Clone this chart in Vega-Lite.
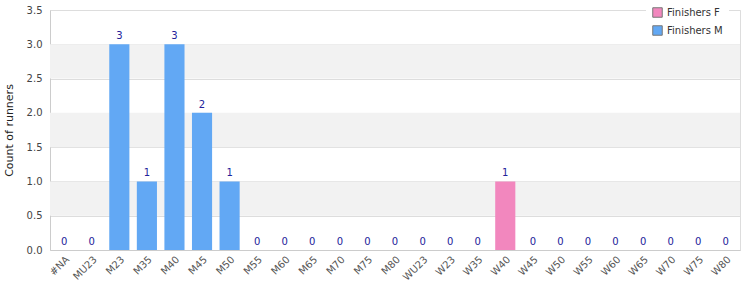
{
  "$schema": "https://vega.github.io/schema/vega-lite/v6.json",
  "autosize": "none",
  "width": 690,
  "height": 240,
  "padding": {"left": 50, "top": 10, "right": 10, "bottom": 50},
  "config": {
    "font": "DejaVu Sans",
    "view": {"stroke": "#dddddd", "strokeWidth": 1},
    "axis": {"labelFont": "DejaVu Sans", "titleFont": "DejaVu Sans"}
  },
  "datasets": {
    "bands": [
      {"y0": 0.5, "y1": 1.0},
      {"y0": 1.5, "y1": 2.0},
      {"y0": 2.5, "y1": 3.0}
    ],
    "runners": [
      {"category": "#NA", "series": "Finishers M", "count": 0},
      {"category": "MU23", "series": "Finishers M", "count": 0},
      {"category": "M23", "series": "Finishers M", "count": 3},
      {"category": "M35", "series": "Finishers M", "count": 1},
      {"category": "M40", "series": "Finishers M", "count": 3},
      {"category": "M45", "series": "Finishers M", "count": 2},
      {"category": "M50", "series": "Finishers M", "count": 1},
      {"category": "M55", "series": "Finishers M", "count": 0},
      {"category": "M60", "series": "Finishers M", "count": 0},
      {"category": "M65", "series": "Finishers M", "count": 0},
      {"category": "M70", "series": "Finishers M", "count": 0},
      {"category": "M75", "series": "Finishers M", "count": 0},
      {"category": "M80", "series": "Finishers M", "count": 0},
      {"category": "WU23", "series": "Finishers F", "count": 0},
      {"category": "W23", "series": "Finishers F", "count": 0},
      {"category": "W35", "series": "Finishers F", "count": 0},
      {"category": "W40", "series": "Finishers F", "count": 1},
      {"category": "W45", "series": "Finishers F", "count": 0},
      {"category": "W50", "series": "Finishers F", "count": 0},
      {"category": "W55", "series": "Finishers F", "count": 0},
      {"category": "W60", "series": "Finishers F", "count": 0},
      {"category": "W65", "series": "Finishers F", "count": 0},
      {"category": "W70", "series": "Finishers F", "count": 0},
      {"category": "W75", "series": "Finishers F", "count": 0},
      {"category": "W80", "series": "Finishers F", "count": 0}
    ]
  },
  "layer": [
    {
      "data": {"name": "bands"},
      "mark": {"type": "rect", "color": "#f2f2f2"},
      "encoding": {
        "y": {"field": "y0", "type": "quantitative", "scale": {"domain": [0, 3.5]}},
        "y2": {"field": "y1"}
      }
    },
    {
      "data": {"name": "runners"},
      "layer": [
        {
          "mark": {"type": "bar"},
          "encoding": {
            "x": {
              "field": "category", "type": "nominal", "sort": null,
              "scale": {"paddingInner": 0.27, "paddingOuter": 0.15},
              "axis": {"title": null, "labelAngle": -45, "labelColor": "#555555", "labelFontSize": 10, "domainColor": "#cccccc", "ticks": false, "labelPadding": 4}
            },
            "y": {
              "field": "count", "type": "quantitative",
              "scale": {"domain": [0, 3.5]},
              "axis": {"title": "Count of runners", "titleFontWeight": "normal", "titleFontSize": 11, "titleColor": "#222222", "labelColor": "#444444", "labelFontSize": 10, "tickCount": 7, "format": ".1f", "gridColor": "#dddddd", "domainColor": "#cccccc", "ticks": false, "labelPadding": 8, "titlePadding": 12}
            },
            "color": {
              "field": "series", "type": "nominal",
              "scale": {"domain": ["Finishers F", "Finishers M"], "range": ["#f287be", "#62a8f4"]},
              "legend": {"title": null, "orient": "none", "legendX": 596, "legendY": -9, "fillColor": "white", "symbolType": "square", "symbolSize": 90, "symbolStrokeColor": "#777777", "symbolStrokeWidth": 1, "labelFontSize": 10, "labelColor": "#333333", "padding": 6, "rowPadding": 3}
            }
          }
        },
        {
          "mark": {"type": "text", "dy": -3, "color": "#22229a", "fontSize": 10, "baseline": "bottom"},
          "encoding": {
            "x": {"field": "category", "type": "nominal", "sort": null},
            "y": {"field": "count", "type": "quantitative"},
            "text": {"field": "count", "type": "quantitative"}
          }
        }
      ]
    }
  ]
}
